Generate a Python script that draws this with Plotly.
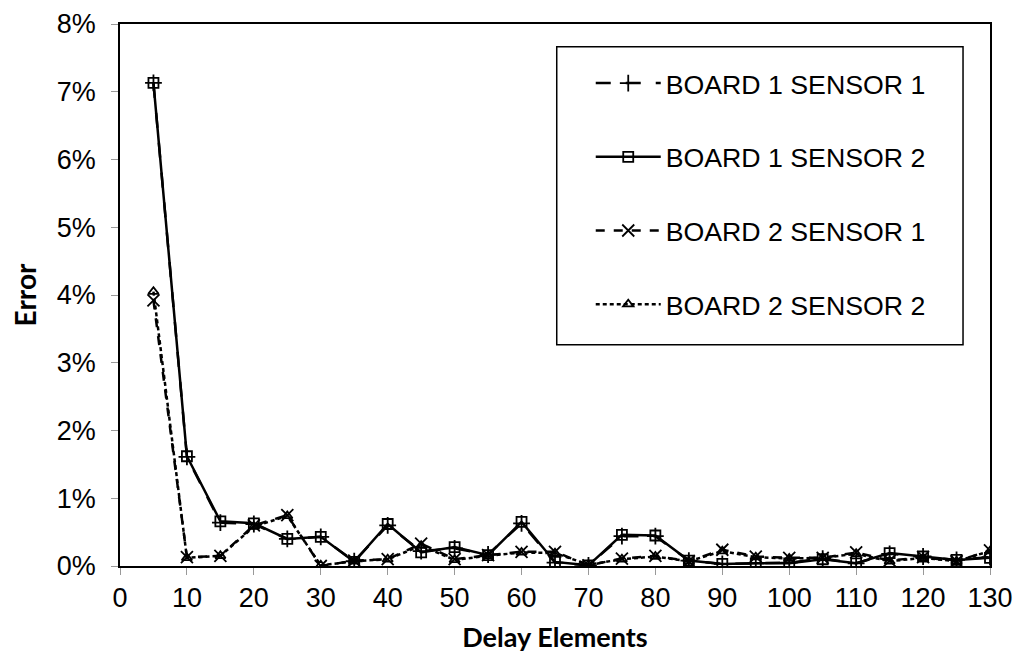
import plotly.graph_objects as go

delay = [5, 10, 15, 20, 25, 30, 35, 40, 45, 50, 55, 60, 65, 70, 75, 80, 85, 90, 95, 100, 105, 110, 115, 120, 125, 130]

b1s1 = [7.13, 1.61, 0.64, 0.62, 0.40, 0.43, 0.07, 0.60, 0.22, 0.26, 0.17, 0.63, 0.05, 0.01, 0.44, 0.44,
        0.08, 0.03, 0.04, 0.05, 0.11, 0.04, 0.18, 0.14, 0.09, 0.13]
b1s2 = [7.13, 1.62, 0.66, 0.63, 0.40, 0.43, 0.06, 0.62, 0.20, 0.28, 0.16, 0.65, 0.06, 0.01, 0.46, 0.45,
        0.08, 0.03, 0.04, 0.04, 0.10, 0.04, 0.19, 0.14, 0.09, 0.12]
b2s1 = [3.92, 0.13, 0.15, 0.60, 0.75, 0.00, 0.08, 0.10, 0.33, 0.10, 0.16, 0.21, 0.21, 0.01, 0.11, 0.15,
        0.07, 0.24, 0.14, 0.12, 0.12, 0.20, 0.08, 0.13, 0.07, 0.23]
b2s2 = [4.05, 0.12, 0.15, 0.58, 0.74, 0.01, 0.07, 0.10, 0.30, 0.09, 0.15, 0.20, 0.19, 0.02, 0.10, 0.14,
        0.07, 0.22, 0.13, 0.11, 0.12, 0.18, 0.07, 0.12, 0.07, 0.22]

names = ["BOARD 1 SENSOR 1", "BOARD 1 SENSOR 2", "BOARD 2 SENSOR 1", "BOARD 2 SENSOR 2"]
series = [b1s1, b1s2, b2s1, b2s2]
dashes = ["longdash", "solid", "dash", "4px,3px"]
symbols = ["cross-thin-open", "square-open", "x-thin-open", "triangle-up-open"]
sizes = [12, 10, 12, 9]

fig = go.Figure()
for i, (nm, vals) in enumerate(zip(names, series)):
    fig.add_trace(go.Scatter(
        x=delay, y=[v / 100 for v in vals], name=nm, mode="lines+markers",
        legendgroup=f"g{i}",
        line=dict(color="black", width=2.5, dash=dashes[i]),
        marker=dict(symbol=symbols[i], size=sizes[i], color="black",
                    line=dict(color="black", width=1.8)),
    ))

# legend frame (paper coordinates)
fig.add_shape(type="rect", xref="paper", yref="paper",
              x0=0.502, x1=0.969, y0=0.408, y1=0.958,
              line=dict(color="black", width=1.5), fillcolor="rgba(0,0,0,0)", layer="below")

fig.update_layout(
    width=1016, height=661,
    margin=dict(l=112, r=34, t=16, b=103),
    plot_bgcolor="white", paper_bgcolor="white",
    font=dict(family="Liberation Sans, Arial", color="black"),
    showlegend=True,
    legend=dict(
        x=0.502, y=0.935, xanchor="left", yanchor="top",
        borderwidth=0, bgcolor="rgba(0,0,0,0)",
        font=dict(size=26.7, family="Liberation Sans, Arial"),
        tracegroupgap=36, itemwidth=65, indentation=34,
    ),
    xaxis=dict(
        range=[0, 130], dtick=10, tick0=0,
        showgrid=False, zeroline=False,
        showline=True, linecolor="black", linewidth=1.5, mirror=True,
        ticks="outside", ticklen=7, tickcolor="#999999",
        tickfont=dict(size=27, family="Liberation Sans, Arial"),
        title=dict(text="<b>Delay Elements</b>", font=dict(size=27, family="Lato, Liberation Sans"), standoff=16),
    ),
    yaxis=dict(
        range=[0, 0.08], dtick=0.01, tickformat=".0%",
        showgrid=False, zeroline=False, automargin=False,
        showline=True, linecolor="black", linewidth=1.5, mirror=True,
        ticks="outside", ticklen=7, tickcolor="#999999",
        ticklabelstandoff=10,
        tickfont=dict(size=27, family="Liberation Sans, Arial"),
        title=dict(text="<b>Error</b>", font=dict(size=28, family="Lato, Liberation Sans"), standoff=16),
    ),
)

fig.write_html("out.html")
